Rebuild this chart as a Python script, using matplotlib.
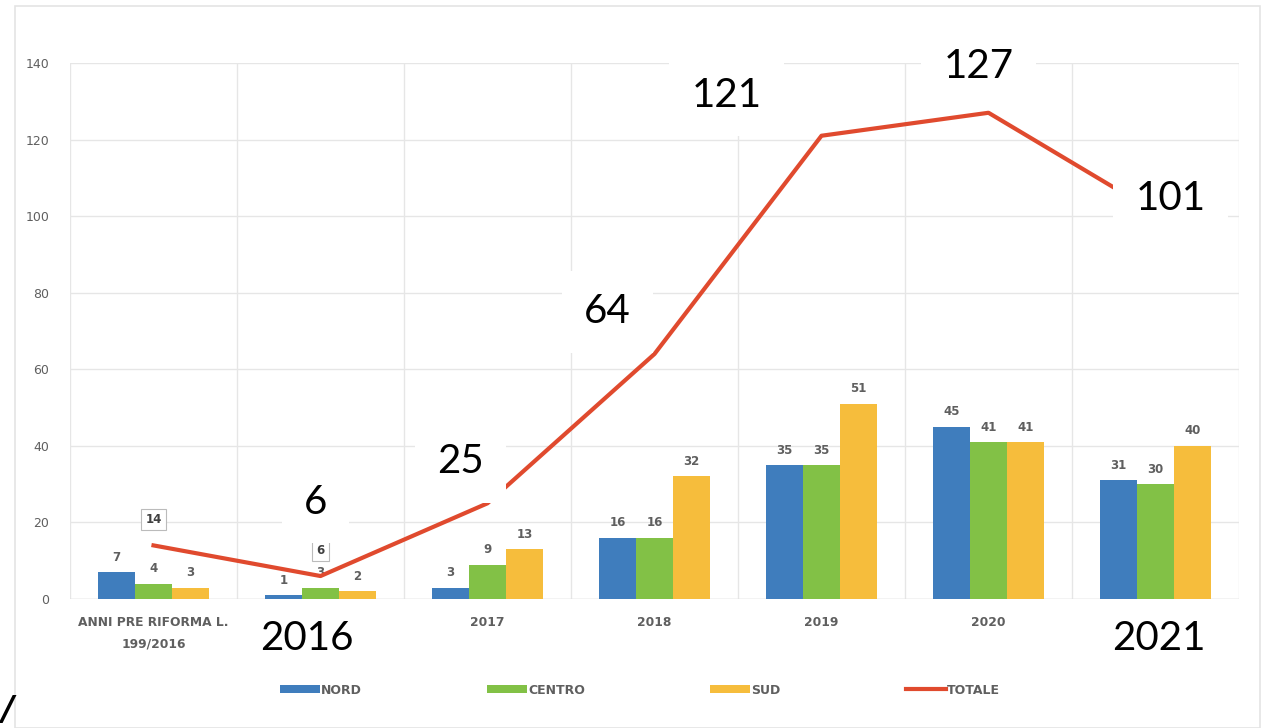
import matplotlib.pyplot as plt
import numpy as np

categories = ["ANNI PRE RIFORMA L.\n199/2016", "2016", "2017", "2018", "2019", "2020", "2021"]
nord = [7, 1, 3, 16, 35, 45, 31]
centro = [4, 3, 9, 16, 35, 41, 30]
sud = [3, 2, 13, 32, 51, 41, 40]
totale = [14, 6, 25, 64, 121, 127, 101]

# which original boxed labels of TOTALE are still visible on the scan
totale_box_visible = [True, True, False, False, False, False, False]

# big labels pasted over the scan: (text, x in data, y in data)
overlay_labels = [
    ("6", 0.97, 25.2),
    ("25", 1.84, 35.8),
    ("64", 2.72, 75.0),
    ("121", 3.43, 131.6),
    ("127", 4.94, 139.2),
    ("101", 6.09, 104.7),
]
# tick labels that were covered by the pasted ones
overlay_ticks = {"2016": 0.92, "2021": 6.02}

BLUE = "#3f7dbd"
GREEN = "#82c146"
YELLOW = "#f6bd3c"
RED = "#e04a2e"
GREY = "#5f5f5f"

fig = plt.figure(figsize=(12.68, 7.28), dpi=100)
ax = fig.add_axes([70 / 1268, 1 - 599 / 728, (1239 - 70) / 1268, (599 - 63) / 728])

# chart border
fig.patches.append(plt.Rectangle((15 / 1268, 0.0), 1245 / 1268, 1 - 6 / 728,
                                 transform=fig.transFigure, fill=False,
                                 edgecolor="#e4e4e4", linewidth=1.2))

x = np.arange(len(categories))
w = 0.222
series = [(nord, BLUE, "NORD"), (centro, GREEN, "CENTRO"), (sud, YELLOW, "SUD")]
handles = []
for i, (vals, col, name) in enumerate(series):
    pos = x + (i - 1) * w
    handles.append(ax.bar(pos, vals, width=w, color=col, label=name, zorder=2))
    for px, v in zip(pos, vals):
        ax.text(px, v + 2.2, str(v), ha="center", va="bottom", fontsize=8.5,
                fontweight="bold", color=GREY, zorder=3)

line, = ax.plot(x, totale, color=RED, linewidth=3, label="TOTALE", zorder=4)
handles.append(line)
for px, v, vis in zip(x, totale, totale_box_visible):
    if not vis:
        continue
    ax.text(px, v + 5, str(v), ha="center", va="bottom", fontsize=8.5, fontweight="bold",
            color="#404040", zorder=5,
            bbox=dict(boxstyle="square,pad=0.35", fc="white", ec="#bbbbbb", lw=0.8))

ax.set_xlim(-0.5, 6.5)
ax.set_ylim(0, 140)
ax.set_yticks(range(0, 141, 20))
ax.set_xticks(x)
ax.set_xticklabels(["" if c in overlay_ticks else c for c in categories],
                   fontsize=8.8, fontweight="bold", color=GREY, linespacing=1.9)
ax.tick_params(axis="y", labelsize=9, labelcolor=GREY, length=0, pad=15)
ax.tick_params(axis="x", length=0, pad=12)
ax.set_axisbelow(True)
ax.grid(axis="y", color="#e6e6e6", linewidth=1)
for b in np.arange(-0.5, 7.0, 1.0):
    ax.axvline(b, color="#e6e6e6", linewidth=1, zorder=0)
for s in ax.spines.values():
    s.set_visible(False)
ax.axhline(0, color="#d9d9d9", linewidth=1, zorder=1)

big = dict(fontsize=29, family=["Lato", "DejaVu Sans"], color="black", zorder=10)
for txt, lx, ly in overlay_labels:
    ax.text(lx, ly, txt, ha="center", va="center", clip_on=False,
            bbox=dict(boxstyle="square,pad=0.55", fc="white", ec="none"), **big)
for txt, lx in overlay_ticks.items():
    ax.text(lx, -10.3, txt, ha="center", va="center", clip_on=False,
            bbox=dict(boxstyle="square,pad=0.3", fc="white", ec="none"), **big)

fig.legend(handles=handles, loc="center", bbox_to_anchor=(640 / 1268, 1 - 690 / 728), ncol=4,
           frameon=False, handlelength=3.2, handleheight=0.6,
           columnspacing=10, handletextpad=0.1,
           prop=dict(size=9, weight="bold"), labelcolor=GREY)

# glyph at the bottom-left edge of the scan
fig.text(1 / 1268, 1 / 728, "/", fontsize=24, fontweight="bold", style="italic",
         color="black", ha="left", va="bottom")

fig.savefig("out.png", dpi=100, facecolor="white")
